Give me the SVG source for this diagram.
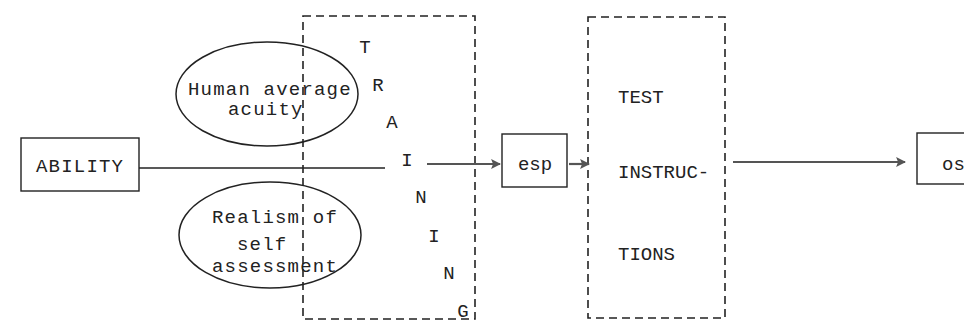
<svg xmlns="http://www.w3.org/2000/svg" width="964" height="322" viewBox="0 0 964 322">
<style>
.t{font-family:"Liberation Mono","Courier New",monospace;font-size:19px;fill:#222;}
.w{letter-spacing:1.2px;}
.box{fill:none;stroke:#222;stroke-width:1.4;}
.dash{fill:none;stroke:#222;stroke-width:1.6;stroke-dasharray:8 5;}
.ell{fill:none;stroke:#222;stroke-width:1.5;}
.arr{stroke:#555;stroke-width:2.2;fill:none;}
</style>
<defs>
<marker id="ah" viewBox="0 0 10 10" refX="9" refY="5" markerWidth="5" markerHeight="4.5" orient="auto" markerUnits="strokeWidth">
<path d="M0,0 L10,5 L0,10 L2,5 z" fill="#555"/>
</marker>
</defs>
<rect width="964" height="322" fill="#fff"/>
<g id="ability">
<rect class="box" x="21" y="138" width="118" height="53"/>
<text class="t w" x="36" y="172">ABILITY</text>
</g>
<g id="human-average-acuity">
<ellipse class="ell" cx="267" cy="94" rx="91" ry="52"/>
<text class="t w" x="188" y="95">Human average</text>
<text class="t w" x="228" y="115">acuity</text>
</g>
<g id="realism">
<ellipse class="ell" cx="270" cy="235" rx="91" ry="53"/>
<text class="t w" x="212" y="223">Realism of</text>
<text class="t w" x="237" y="250">self</text>
<text class="t w" x="212" y="272">assessment</text>
</g>
<g id="training">
<rect class="dash" x="303" y="16" width="172" height="303"/>
<g class="t" text-anchor="middle">
<text x="365" y="53">T</text>
<text x="378" y="91">R</text>
<text x="392" y="128">A</text>
<text x="407" y="166">I</text>
<text x="421" y="203">N</text>
<text x="434" y="242">I</text>
<text x="449" y="279">N</text>
<text x="463" y="317">G</text>
</g>
</g>
<g id="esp">
<rect class="box" x="502" y="134" width="65" height="53"/>
<text class="t" x="535" y="170" text-anchor="middle">esp</text>
</g>
<g id="test-instructions">
<rect class="dash" x="588" y="17" width="137" height="301"/>
<text class="t" x="618" y="103">TEST</text>
<text class="t" x="618" y="178">INSTRUC-</text>
<text class="t" x="618" y="260">TIONS</text>
</g>
<g id="osp">
<rect class="box" x="917" y="133" width="80" height="51"/>
<text class="t" x="942" y="170">osp</text>
</g>
<g id="connectors">
<line x1="139" y1="168" x2="385" y2="168" stroke="#222" stroke-width="1.5"/>
<line class="arr" x1="427" y1="164" x2="500" y2="164" marker-end="url(#ah)"/>
<line class="arr" x1="569" y1="164" x2="589" y2="164" marker-end="url(#ah)"/>
<line class="arr" x1="733" y1="162" x2="905" y2="162" marker-end="url(#ah)"/>
</g>
</svg>
